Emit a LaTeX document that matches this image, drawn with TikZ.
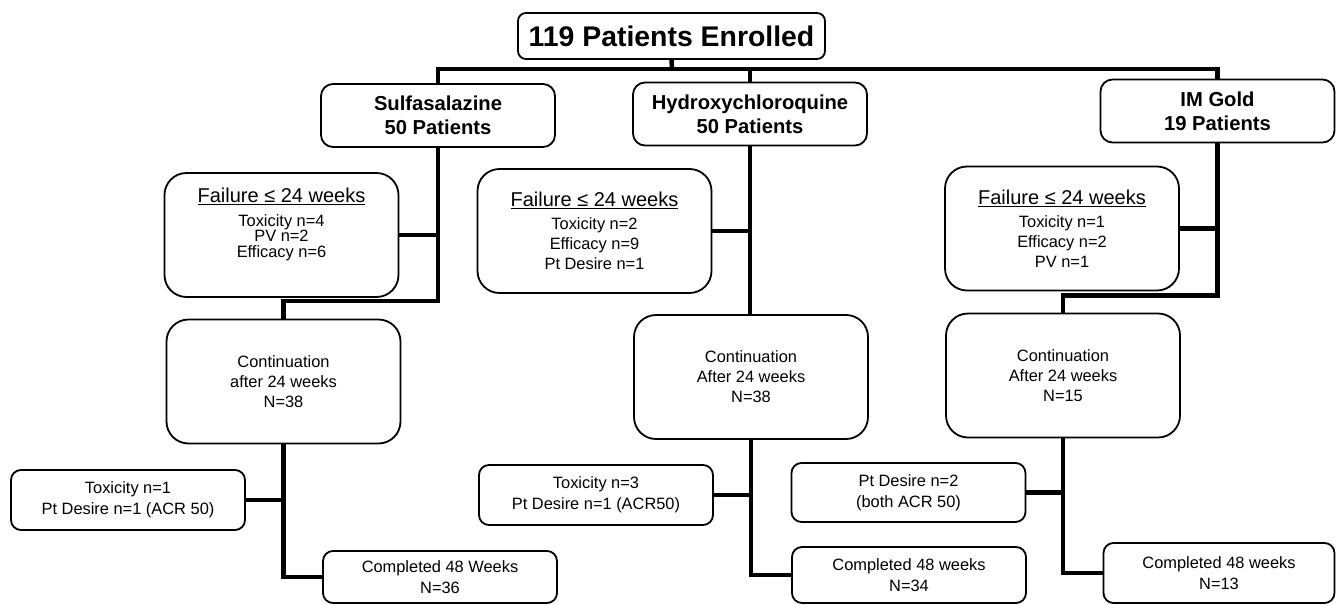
\documentclass[tikz,border=0pt]{standalone}
\usepackage{fontspec}
\setmainfont{Liberation Sans}
\begin{document}
\begin{tikzpicture}[x=1pt, y=-1pt,
    box/.style={draw, line width=1.8pt, align=center, inner sep=0pt, minimum width=234pt},
    capo/.style={box, rounded corners=8pt, minimum width=307pt, minimum height=46pt, font=\fontsize{28.4}{30}\selectfont\bfseries},
    farmaco/.style={box, rounded corners=12pt, minimum height=63pt, font=\fontsize{20.2}{24}\selectfont\bfseries},
    fase/.style={box, rounded corners=22pt, minimum height=124pt, font=\fontsize{16.4}{20}\selectfont},
    esito/.style={box, rounded corners=10pt, minimum height=60pt, font=\fontsize{16.4}{21}\selectfont},
    linea/.style={line width=4.5pt}]
      \useasboundingbox (0,0) rectangle (1336,605);

      % Pazienti arruolati
      \node[capo] (totale) at (671.5,36) {119 Patients Enrolled};

      % I tre farmaci
      \node[farmaco] (sulfa) at (438,115.5) {Sulfasalazine\\50 Patients};
      \node[farmaco] (idro) at (750,114) {Hydroxychloroquine\\50 Patients};
      \node[farmaco] (oro) at (1217.5,111) {IM Gold\\19 Patients};

      % Fallimenti entro 24 settimane
      \node[fase, font=\fontsize{16.4}{15.5}\selectfont, text depth=25pt] (sfall) at (281.5,235)
        {{\fontsize{20}{20}\selectfont\underline{Failure ≤ 24 weeks}}\\[8.5pt]Toxicity n=4\\PV n=2\\Efficacy n=6};
      \node[fase] (ifall) at (594.5,231)
        {{\fontsize{20}{20}\selectfont\underline{Failure ≤ 24 weeks}}\\[3pt]Toxicity n=2\\Efficacy n=9\\Pt Desire n=1};
      \node[fase] (ofall) at (1062,228.5)
        {{\fontsize{20}{20}\selectfont\underline{Failure ≤ 24 weeks}}\\[3pt]Toxicity n=1\\Efficacy n=2\\PV n=1};

      % Continuazione dopo 24 settimane
      \node[fase] (scont) at (283.5,381.5) {Continuation\\after 24 weeks\\N=38};
      \node[fase] (icont) at (751,377) {Continuation\\After 24 weeks\\N=38};
      \node[fase] (ocont) at (1063,375.5) {Continuation\\After 24 weeks\\N=15};

      % Uscite dopo 24 settimane
      \node[esito] (sstop) at (128,500) {Toxicity n=1\\Pt Desire n=1 (ACR 50)};
      \node[esito] (istop) at (596,495) {Toxicity n=3\\Pt Desire n=1 (ACR50)};
      \node[esito, minimum height=59pt] (ostop) at (908.5,492.5) {Pt Desire n=2\\(both ACR 50)};

      % Completati 48 settimane
      \node[esito, minimum height=52pt] (sfine) at (440,577) {Completed 48 Weeks\\N=36};
      \node[esito, minimum height=56pt] (ifine) at (909,575) {Completed 48 weeks\\N=34};
      \node[esito, minimum width=231pt] (ofine) at (1219,573) {Completed 48 weeks\\N=13};

      % Collegamenti in alto
      \coordinate (bus) at (672,69);
      \draw[linea] (totale.south) -- (bus);
      \draw[linea] (sulfa.north) |- (bus) -| (oro.north);
      \draw[linea] (idro.north) -- (idro.north |- bus);

      % Colonna sulfasalazina
      \draw[linea] (sulfa.south) -- ++(0,153) -| (scont.north);
      \draw[linea] (sfall.east) -- (sfall.east -| sulfa.south);
      \draw[linea] (scont.south) |- (sfine.west);
      \draw[linea] (sstop.east) -- (sstop.east -| scont.south);

      % Colonna idrossiclorochina
      \draw[linea] (idro.south) -- (idro.south |- icont.north);
      \draw[linea] (ifall.east) -- (ifall.east -| idro.south);
      \draw[linea] (icont.south) |- (ifine.west);
      \draw[linea] (istop.east) -- (istop.east -| icont.south);

      % Colonna oro
      \draw[linea] (oro.south) -- ++(0,152) -| (ocont.north);
      \draw[linea] (ofall.east) -- (ofall.east -| oro.south);
      \draw[linea] (ocont.south) |- (ofine.west);
      \draw[linea] (ostop.east) -- (ostop.east -| ocont.south);
\end{tikzpicture}
\end{document}
